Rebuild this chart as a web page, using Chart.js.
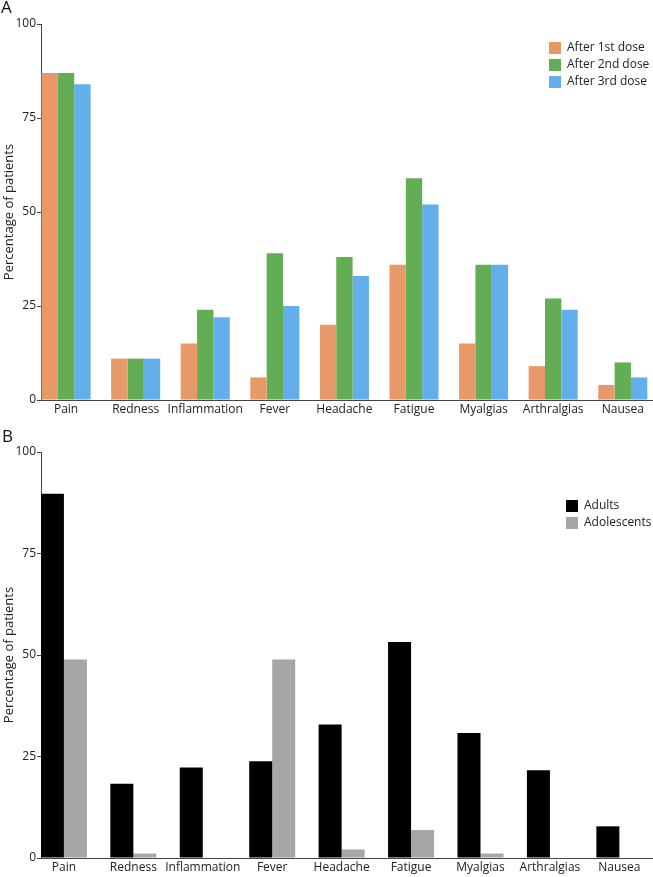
<!DOCTYPE html>
<html>
<head>
<meta charset="utf-8">
<script src="https://cdn.jsdelivr.net/npm/chart.js@4.4.1/dist/chart.umd.min.js"></script>
<style>
  body { margin: 0; background: #fff; }
  .panel { position: relative; width: 653px; }
  #boxA { height: 420px; }
  #boxB { height: 457px; }
</style>
</head>
<body>
<div class="panel" id="boxA"><canvas id="chartA"></canvas></div>
<div class="panel" id="boxB"><canvas id="chartB"></canvas></div>
<script>
const symptoms = ['Pain', 'Redness', 'Inflammation', 'Fever', 'Headache', 'Fatigue', 'Myalgias', 'Arthralgias', 'Nausea'];

// panel A - by dose
const dose1 = [87, 11, 15, 6, 20, 36, 15, 9, 4];
const dose2 = [87, 11, 24, 39, 38, 59, 36, 27, 10];
const dose3 = [84, 11, 22, 25, 33, 52, 36, 24, 6];

// panel B - by age group
const adults = [89.7, 18.3, 22.3, 23.8, 32.9, 53.2, 30.8, 21.6, 7.8];
const adolescents = [48.9, 1.1, 0, 48.9, 2.1, 6.9, 1.1, 0, 0];

const yTicks = [0, 25, 50, 75, 100];

Chart.defaults.font.family = "'Open Sans', sans-serif";
Chart.defaults.color = '#222';

// symptom index -> bar point
const toPoints = arr => arr.map((v, i) => ({ x: i, y: v }));

// legend drawn as a small vertical list inside the plot
const boxLegend = {
  id: 'boxLegend',
  afterDraw(chart, args, opts) {
    const ctx = chart.ctx;
    ctx.save();
    ctx.font = '12px "Open Sans"';
    ctx.textBaseline = 'middle';
    chart.data.datasets.forEach((ds, i) => {
      const y = opts.top + i * opts.rowGap;
      ctx.fillStyle = ds.backgroundColor;
      ctx.fillRect(opts.left, y - 6, 12, 12);
      ctx.fillStyle = '#222';
      ctx.fillText(ds.label, opts.left + 18, y);
    });
    ctx.restore();
  }
};

// the "A" / "B" panel letter
const panelLetter = {
  id: 'panelLetter',
  afterDraw(chart, args, opts) {
    const ctx = chart.ctx;
    ctx.save();
    ctx.font = '17px "Open Sans"';
    ctx.fillStyle = '#111';
    ctx.textBaseline = 'top';
    ctx.fillText(opts.text, opts.x, opts.y);
    ctx.restore();
  }
};

function makeScales(xMin, xMax, xHeight) {
  return {
    x: {
      type: 'linear',
      offset: false,
      min: xMin,
      max: xMax,
      afterBuildTicks(scale) { scale.ticks = symptoms.map((s, i) => ({ value: i })); },
      grid: { display: false, drawTicks: false, tickLength: 0 },
      border: { display: true, color: '#444', width: 1 },
      ticks: {
        font: { size: 12 }, padding: 2, maxRotation: 0, autoSkip: false,
        callback: v => symptoms[v]
      },
      afterFit(scale) { scale.height = xHeight; }
    },
    y: {
      min: 0,
      max: 100,
      afterBuildTicks(scale) { scale.ticks = yTicks.map(v => ({ value: v })); },
      grid: { display: true, drawOnChartArea: false, drawTicks: true, tickLength: 4, color: '#444' },
      border: { display: true, color: '#444', width: 1 },
      ticks: { font: { size: 12 }, padding: 1 },
      title: { display: true, text: 'Percentage of patients', font: { size: 13 }, padding: { top: 1, bottom: 0 } },
      afterFit(scale) { scale.width = 41; }
    }
  };
}

new Chart(document.getElementById('chartA').getContext('2d'), {
  type: 'bar',
  data: {
    datasets: [
      { label: 'After 1st dose', data: toPoints(dose1), backgroundColor: '#E8996A' },
      { label: 'After 2nd dose', data: toPoints(dose2), backgroundColor: '#63AE55' },
      { label: 'After 3rd dose', data: toPoints(dose3), backgroundColor: '#63AFEB' }
    ]
  },
  options: {
    responsive: true,
    maintainAspectRatio: false,
    animation: false,
    layout: { padding: { top: 24, left: 0, right: 1, bottom: 0 } },
    datasets: { bar: { categoryPercentage: 0.705, barPercentage: 1.0 } },
    scales: makeScales(-0.36, 8.42, 20),
    plugins: {
      legend: { display: false },
      tooltip: { enabled: false },
      boxLegend: { left: 549, top: 48, rowGap: 17 },
      panelLetter: { text: 'A', x: 1, y: 0 }
    }
  },
  plugins: [boxLegend, panelLetter]
});

new Chart(document.getElementById('chartB').getContext('2d'), {
  type: 'bar',
  data: {
    datasets: [
      { label: 'Adults', data: toPoints(adults), backgroundColor: '#000000' },
      { label: 'Adolescents', data: toPoints(adolescents), backgroundColor: '#A6A6A6' }
    ]
  },
  options: {
    responsive: true,
    maintainAspectRatio: false,
    animation: false,
    layout: { padding: { top: 32, left: 0, right: 1, bottom: 0 } },
    datasets: { bar: { categoryPercentage: 0.663, barPercentage: 1.0 } },
    scales: makeScales(-0.33, 8.47, 19),
    plugins: {
      legend: { display: false },
      tooltip: { enabled: false },
      boxLegend: { left: 566, top: 86, rowGap: 17 },
      panelLetter: { text: 'B', x: 2, y: 9 }
    }
  },
  plugins: [boxLegend, panelLetter]
});
</script>
</body>
</html>
